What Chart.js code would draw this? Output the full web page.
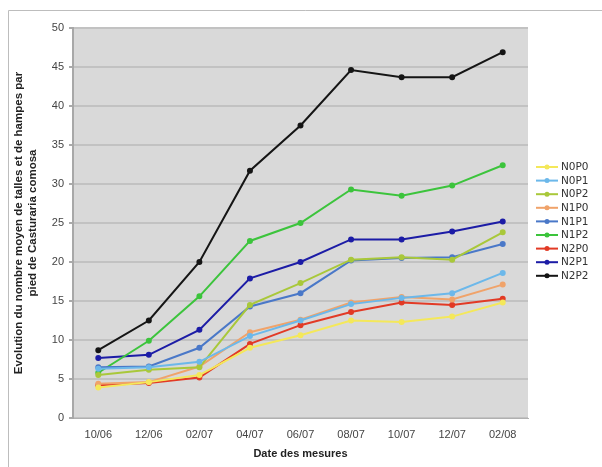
<!DOCTYPE html>
<html>
<head>
<meta charset="utf-8">
<script src="https://cdn.jsdelivr.net/npm/chart.js@4/dist/chart.umd.min.js"></script>
<style>
  body { margin: 0; background: #fff; }
  #wrap { width: 602px; height: 467px; }
</style>
</head>
<body>
<div id="wrap"><canvas id="myChart"></canvas></div>
<script>
// dates of the measurements
const dates = ['10/06', '12/06', '02/07', '04/07', '06/07', '08/07', '10/07', '12/07', '02/08'];

const n0p0 = [3.9, 4.6, 5.5, 9.0, 10.6, 12.5, 12.3, 13.0, 14.8];
const n0p1 = [6.3, 6.5, 7.2, 10.5, 12.5, 14.6, 15.4, 16.0, 18.6];
const n0p2 = [5.5, 6.2, 6.5, 14.5, 17.3, 20.3, 20.6, 20.3, 23.8];
const n1p0 = [4.4, 4.6, 6.6, 11.0, 12.6, 14.8, 15.5, 15.2, 17.1];
const n1p1 = [6.5, 6.6, 9.0, 14.3, 16.0, 20.2, 20.5, 20.6, 22.3];
const n1p2 = [5.8, 9.9, 15.6, 22.7, 25.0, 29.3, 28.5, 29.8, 32.4];
const n2p0 = [4.2, 4.5, 5.2, 9.5, 11.9, 13.6, 14.8, 14.5, 15.3];
const n2p1 = [7.7, 8.1, 11.3, 17.9, 20.0, 22.9, 22.9, 23.9, 25.2];
const n2p2 = [8.7, 12.5, 20.0, 31.7, 37.5, 44.6, 43.7, 43.7, 46.9];

const seriesNames = ['N0P0', 'N0P1', 'N0P2', 'N1P0', 'N1P1', 'N1P2', 'N2P0', 'N2P1', 'N2P2'];
const seriesData = [n0p0, n0p1, n0p2, n1p0, n1p1, n1p2, n2p0, n2p1, n2p2];
const colors = ['#f4e85a', '#6cb8ea', '#a9c83a', '#f0a36a', '#4a78c8', '#3cc43c', '#e23a25', '#1c1ca6', '#151515'];

const yTicks = [0, 5, 10, 15, 20, 25, 30, 35, 40, 45, 50];

const datasets = seriesNames.map((name, i) => ({
    label: name,
    data: seriesData[i],
    borderColor: colors[i],
    backgroundColor: colors[i],
    borderWidth: 2,
    pointRadius: 2,
    pointHoverRadius: 2,
    tension: 0
}));

// grey plot area + outer frame
const backdrop = {
    id: 'backdrop',
    beforeDraw(chart) {
        const c = chart.ctx, a = chart.chartArea;
        c.save();
        c.strokeStyle = '#bdbdbd';
        c.lineWidth = 1;
        c.beginPath();
        c.moveTo(8.5, 467);
        c.lineTo(8.5, 10.5);
        c.lineTo(602, 10.5);
        c.stroke();
        c.fillStyle = '#d9d9d9';
        c.fillRect(a.left, a.top, a.right - a.left, a.bottom - a.top);
        c.restore();
    }
};

// legend drawn as line + dot like the original
const sideLegend = {
    id: 'sideLegend',
    afterDraw(chart) {
        const c = chart.ctx;
        const x0 = 536, y0 = 167, step = 13.6;
        c.save();
        c.font = '10.5px "DejaVu Sans", sans-serif';
        c.textBaseline = 'middle';
        chart.data.datasets.forEach((ds, i) => {
            const y = y0 + i * step;
            c.strokeStyle = ds.borderColor;
            c.lineWidth = 2;
            c.beginPath();
            c.moveTo(x0, y);
            c.lineTo(x0 + 22, y);
            c.stroke();
            c.fillStyle = ds.borderColor;
            c.beginPath();
            c.arc(x0 + 11, y, 2.5, 0, Math.PI * 2);
            c.fill();
            c.fillStyle = '#333';
            c.fillText(ds.label, x0 + 25, y + 0.5);
        });
        c.restore();
    }
};

new Chart(document.getElementById('myChart'), {
    type: 'line',
    data: { labels: dates, datasets: datasets },
    plugins: [backdrop, sideLegend],
    options: {
        responsive: true,
        maintainAspectRatio: false,
        animation: false,
        layout: { padding: { left: 12, top: 28, right: 74, bottom: 6 } },
        plugins: {
            legend: { display: false },
            tooltip: { enabled: false }
        },
        scales: {
            x: {
                offset: true,
                grid: { display: false, drawTicks: false },
                border: { color: '#b0b0b0' },
                ticks: { color: '#444', font: { size: 11, family: 'Arial, "Liberation Sans", sans-serif' }, padding: 10, maxRotation: 0 },
                title: {
                    display: true,
                    text: 'Date des mesures',
                    color: '#222',
                    font: { size: 11, weight: 'bold', family: 'Arial, "Liberation Sans", sans-serif' },
                    padding: { top: 0, bottom: 0 }
                },
                afterFit: s => { s.height = 43; }
            },
            y: {
                min: 0,
                max: 50,
                afterBuildTicks: s => { s.ticks = yTicks.map(v => ({ value: v })); },
                grid: { color: '#c2c2c2', lineWidth: 2, tickLength: 4, tickColor: '#aaa' },
                border: { color: '#a8a8a8', width: 2 },
                ticks: { color: '#444', font: { size: 11, family: 'Arial, "Liberation Sans", sans-serif' }, padding: 5 },
                title: {
                    display: true,
                    text: ['Evolution du nombre moyen de talles et de hampes par', 'pied de Casturaria comosa'],
                    color: '#222',
                    font: { size: 11.5, weight: 'bold', family: 'Arial, "Liberation Sans", sans-serif' },
                    padding: { top: 0, bottom: 4 }
                },
                afterFit: s => { s.width = 61; }
            }
        }
    }
});
</script>
</body>
</html>
